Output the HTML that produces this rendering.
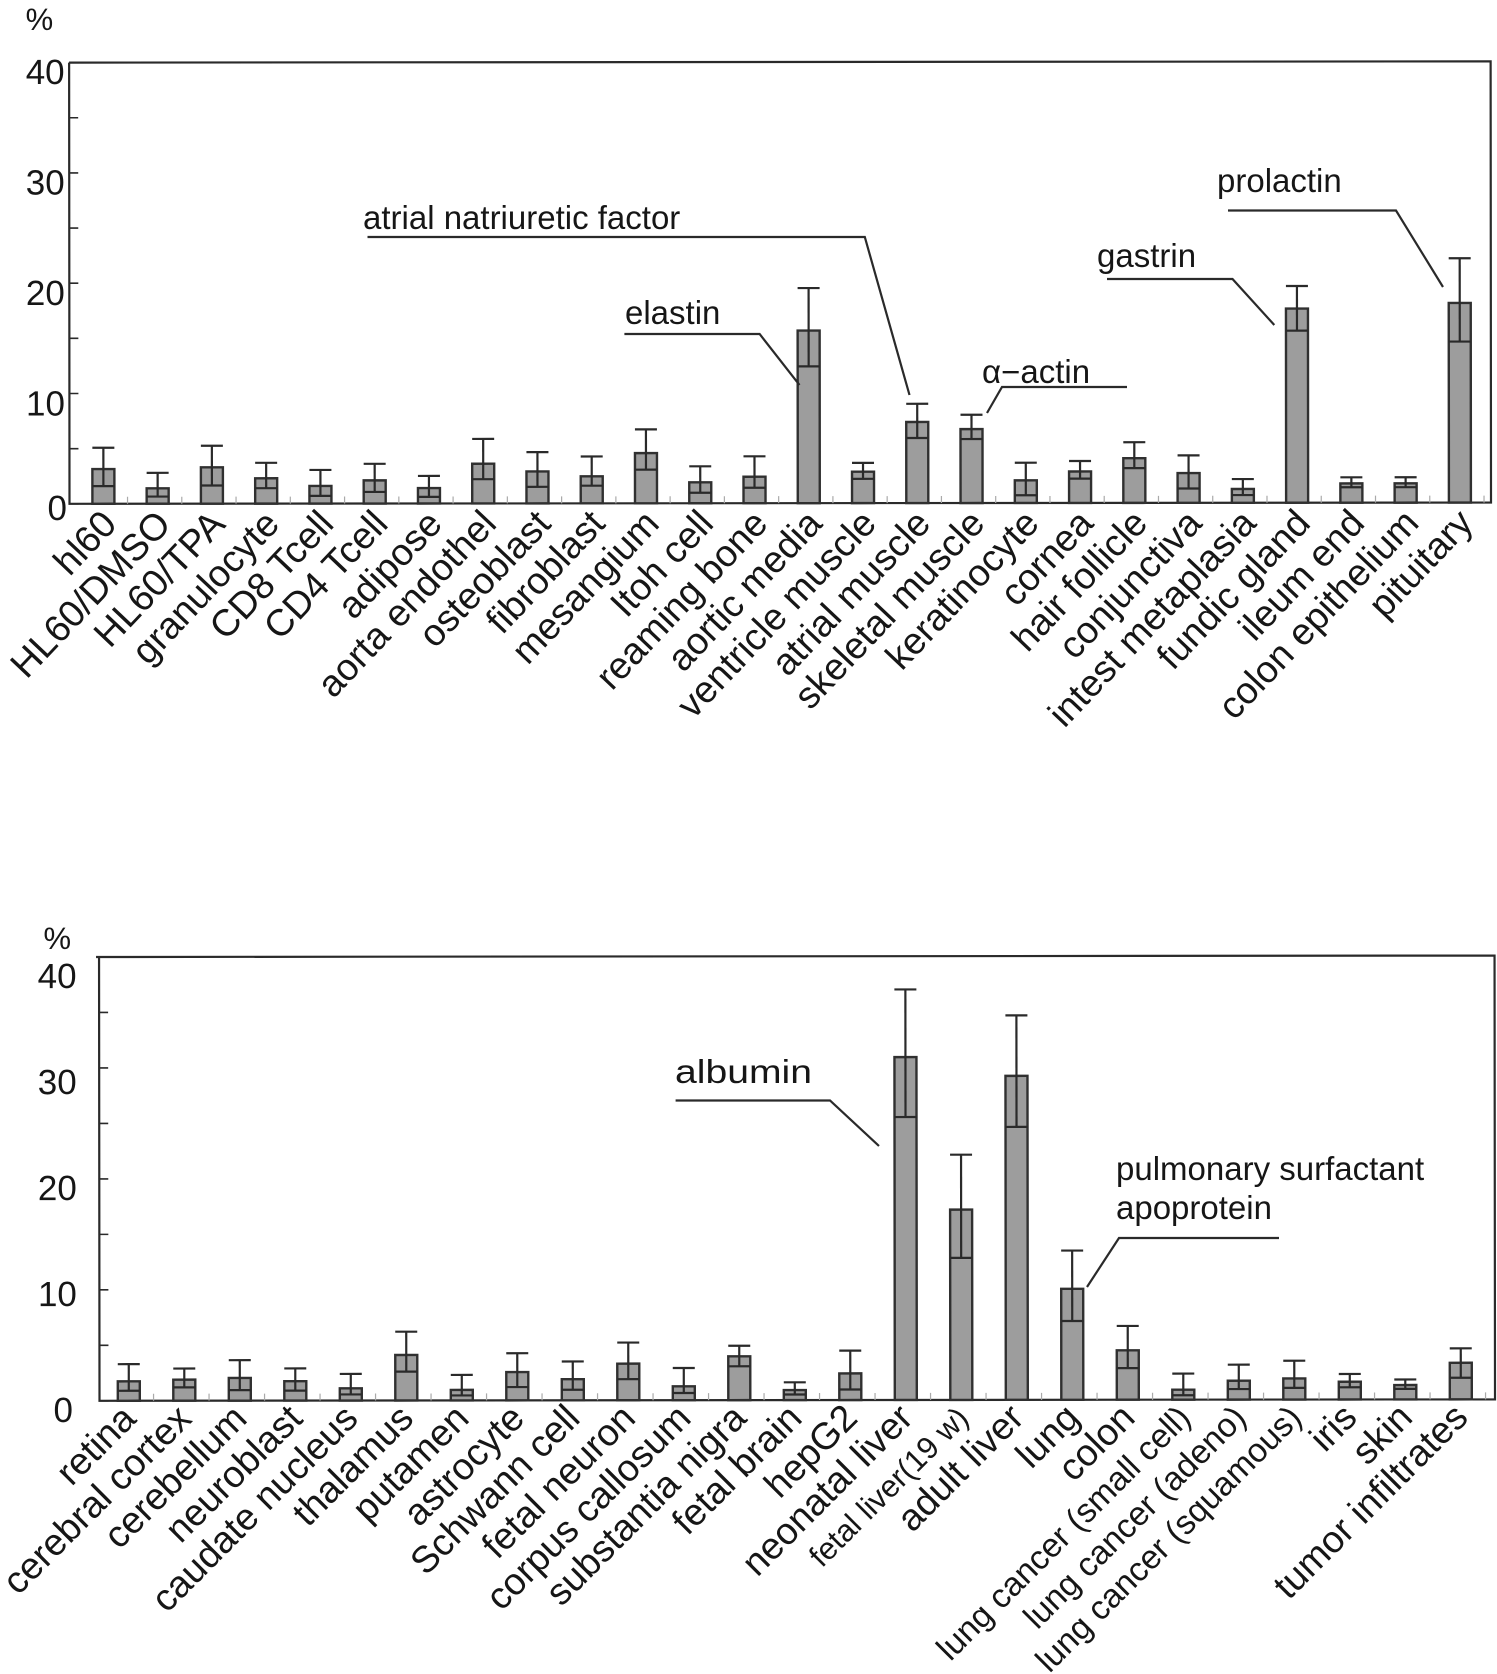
<!DOCTYPE html>
<html lang="en">
<head>
<meta charset="utf-8">
<title>Expression percentage by tissue</title>
<style>
html,body{margin:0;padding:0;background:#fff;}
svg{display:block;}
text{font-family:"Liberation Sans",Arial,sans-serif;fill:#161616;}
.note{font-size:33px;}
.tick{font-size:35px;}
.line{stroke:#2a2a2a;stroke-width:2.2;fill:none;}
</style>
</head>
<body>
<svg id="figure" xmlns="http://www.w3.org/2000/svg" width="1497" height="1674" viewBox="0 0 1497 1674">
  <rect width="1497" height="1674" fill="#ffffff"/>
  <g id="chart-top" transform="rotate(-0.05 70 498)"></g>
  <g id="chart-bottom" transform="rotate(-0.06 100 1393)"></g>

  <g>
    <text class="note" x="363" y="229">atrial natriuretic factor</text>
    <polyline class="line" points="367.5,237 864.8,237 909.5,395"/>
    <text class="note" x="625" y="324">elastin</text>
    <polyline class="line" points="624.4,334 759.6,334 799.5,385"/>
    <text class="note" x="982" y="383">α−actin</text>
    <polyline class="line" points="987,413 1002,387 1127,387"/>
    <text class="note" x="1097" y="267">gastrin</text>
    <polyline class="line" points="1107,279 1232.5,279 1274.3,325"/>
    <text class="note" x="1217" y="192">prolactin</text>
    <polyline class="line" points="1228,210.5 1396,210.5 1443,287"/>
  </g>
  <g>
    <text class="note" x="675" y="1083" textLength="137" lengthAdjust="spacingAndGlyphs">albumin</text>
    <polyline class="line" points="675.6,1100.5 830,1100.5 879,1146"/>
    <text class="note" x="1116" y="1180">pulmonary surfactant</text>
    <text class="note" x="1116" y="1219">apoprotein</text>
    <polyline class="line" points="1087,1287 1119,1238 1279,1238"/>
  </g>
</svg>
<script>
const yTicks = [0, 5, 10, 15, 20, 25, 30, 35, 40];
const yTickLabels = [0, 10, 20, 30, 40];

const topCategories = ["hl60","HL60/DMSO","HL60/TPA","granulocyte","CD8 Tcell","CD4 Tcell","adipose","aorta endothel","osteoblast","fibroblast","mesangium","Itoh cell","reaming bone","aortic media","ventricle muscle","atrial muscle","skeletal muscle","keratinocyte","cornea","hair follicle","conjunctiva","intest metaplasia","fundic gland","ileum end","colon epithelium","pituitary"];
const topValues = [3.15,1.4,3.3,2.3,1.6,2.1,1.4,3.6,2.9,2.45,4.55,1.9,2.4,15.65,2.85,7.35,6.7,2.05,2.85,4.05,2.7,1.25,17.6,1.75,1.75,18.1];
const topUpper = [5.08,2.8,5.25,3.7,3.05,3.6,2.5,5.85,4.65,4.25,6.7,3.35,4.25,19.5,3.65,9.0,8.0,3.65,3.8,5.5,4.3,2.15,19.65,2.3,2.3,22.15];
const topLower = [1.6,0.65,1.65,1.4,0.7,1.05,0.6,2.2,1.5,1.6,3.05,0.95,1.4,12.4,2.2,5.9,5.8,0.7,2.2,3.15,1.3,0.7,15.6,1.4,1.4,14.6];

const bottomCategories = ["retina","cerebral cortex","cerebellum","neuroblast","caudate nucleus","thalamus","putamen","astrocyte","Schwann cell","fetal neuron","corpus callosum","substantia nigra","fetal brain","hepG2","neonatal liver","fetal liver(19 w)","adult liver","lung","colon","lung cancer (small cell)","lung cancer (adeno)","lung cancer (squamous)","iris","skin","tumor infiltrates"];
const bottomValues = [1.75,1.9,2.05,1.75,1.1,4.1,0.95,2.55,1.9,3.3,1.25,3.95,0.9,2.4,30.9,17.15,29.2,10,4.45,0.9,1.7,1.9,1.6,1.3,3.3];
const bottomUpper = [3.3,2.9,3.65,2.9,2.4,6.2,2.3,4.25,3.5,5.2,2.9,4.9,1.6,4.45,37,22.1,34.65,13.45,6.65,2.35,3.15,3.5,2.3,1.8,4.6];
const bottomLower = [0.9,1.2,0.95,0.9,0.55,2.6,0.45,1.2,0.95,1.9,0.65,3.05,0.5,0.95,25.5,12.8,24.6,7.1,2.85,0.4,0.95,1.05,1.1,0.95,1.95];

const SVG_NS = "http://www.w3.org/2000/svg";

function make(parent, tag, attrs) {
  const el = document.createElementNS(SVG_NS, tag);
  for (const k in attrs) el.setAttribute(k, attrs[k]);
  parent.appendChild(el);
  return el;
}

function slug(s) {
  return s.toLowerCase().replace(/[^a-z0-9]+/g, "-").replace(/^-|-$/g, "");
}

function labelSize(name, base) {
  if (name.indexOf("lung cancer") === 0) return 33.5;
  if (name.indexOf("fetal liver") === 0) return 31;
  return base;
}

function drawChart(cfg) {
  const g = document.getElementById(cfg.id);
  const y = v => cfg.y0 - (cfg.y0 - cfg.y40) * v / 40;
  const x = i => cfg.x0 + i * cfg.step;

  const frame = make(g, "path", {d: "M" + (cfg.left - cfg.topOver) + " " + y(40) + "H" + cfg.right + "V" + y(0) + "H" + cfg.left + "V" + y(40), fill: "none", stroke: "#2a2a2a", "stroke-width": 2.2});
  
  

  yTicks.forEach(t => {
    const tick = make(g, "line", {x1: cfg.left, x2: cfg.left + 9, y1: y(t), y2: y(t), stroke: "#2a2a2a", "stroke-width": 1.6});
    
    
  });

  yTickLabels.forEach(t => {
    const label = make(g, "text", {class: "tick", x: t === 0 ? cfg.zeroRight : cfg.labelRight, y: t === 0 ? cfg.zeroY : cfg.label0 - t * cfg.labelStep, "text-anchor": "end"});
    label.textContent = String(t);
    
    
  });

  const pct = make(g, "text", {x: cfg.pctX, y: cfg.pctY, "font-size": 31});
  pct.textContent = "%";
  
  

  cfg.categories.forEach((name, i) => {
    const cx = x(i);
    const hw = 11;

    const xt = make(g, "line", {x1: cx + cfg.step / 2 - 3, x2: cx + cfg.step / 2 - 3, y1: y(0) - 7, y2: y(0), stroke: "#aaa", "stroke-width": 1.2});
    
    

    const bar = make(g, "rect", {x: cx - hw, y: y(cfg.values[i]), width: hw * 2, height: y(0) - y(cfg.values[i]), fill: "#9d9d9d", stroke: "#303030", "stroke-width": 2.4});
    
    

    const stem = make(g, "line", {x1: cx, x2: cx, y1: y(cfg.upper[i]), y2: y(cfg.lower[i]), stroke: "#2a2a2a", "stroke-width": 2.2});
    
    

    const capTop = make(g, "line", {x1: cx - hw, x2: cx + hw, y1: y(cfg.upper[i]), y2: y(cfg.upper[i]), stroke: "#2a2a2a", "stroke-width": 2.2});
    
    

    const capLow = make(g, "line", {x1: cx - hw, x2: cx + hw, y1: y(cfg.lower[i]), y2: y(cfg.lower[i]), stroke: "#2a2a2a", "stroke-width": 2.2});
    
    

    const lx = cx + cfg.labelDx;
    const ly = y(0) + cfg.labelDy;
    const lab = make(g, "text", {x: lx, y: ly, "text-anchor": "end", "font-size": labelSize(name, cfg.labelFont), transform: "rotate(" + cfg.labelAngle + " " + lx + " " + ly + ")"});
    lab.textContent = name;
    
    
  });
}

drawChart({id: "chart-top", categories: topCategories, values: topValues, upper: topUpper, lower: topLower,
  left: 69.5, right: 1491, topOver: 0, y0: 503.8, y40: 62.6, x0: 103.4, step: 54.26,
  labelRight: 65, zeroRight: 67, label0: 526, labelStep: 11.05, zeroY: 520, pctX: 26, pctY: 30,
  labelDx: 15, labelDy: 22, labelFont: 37.5, labelAngle: -46.5});
drawChart({id: "chart-bottom", categories: bottomCategories, values: bottomValues, upper: bottomUpper, lower: bottomLower,
  left: 99.5, right: 1495, topOver: 3, y0: 1400.8, y40: 957, x0: 128.8, step: 55.5,
  labelRight: 77, zeroRight: 73, label0: 1412, labelStep: 10.6, zeroY: 1422, pctX: 44, pctY: 949,
  labelDx: 9, labelDy: 20, labelFont: 37.5, labelAngle: -45});
</script>
</body>
</html>
